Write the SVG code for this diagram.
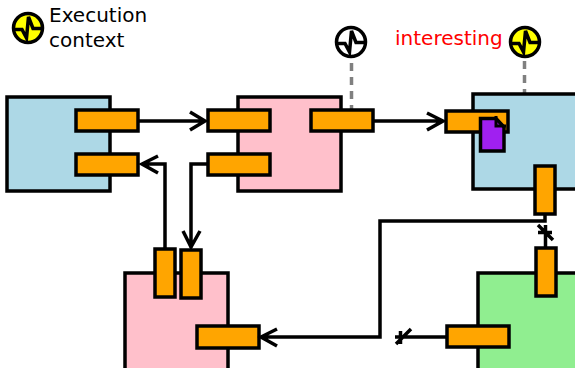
<svg xmlns="http://www.w3.org/2000/svg" width="575" height="368" viewBox="0 0 575 368">
<defs>
<g id="ctx"><circle cx="0" cy="0" r="14.500" stroke="#000" stroke-width="3.500"/><path d="M-15 1.500H-6L-1.500 10L0.500 -11L5 0.500H15" fill="none" stroke="#000" stroke-width="3.500"/></g>
</defs>
<style>
text{font-family:"DejaVu Sans",sans-serif;font-size:20px}
.b{stroke:#000;stroke-width:3.500}
.p{fill:orange;stroke:#000;stroke-width:3.500}
.c{fill:none;stroke:#000;stroke-width:3.500}
.d{fill:none;stroke:#808080;stroke-width:3.500;stroke-dasharray:8 6}
</style>
<rect width="575" height="368" fill="#fff"/>
<g id="legend"><use href="#ctx" x="28" y="28" fill="#ffff00"/><text x="49" y="22">Execution</text><text x="49" y="47">context</text></g>
<g id="connectors-dashed"><path class="d" d="M351.500 63V110"/><path class="d" d="M524.500 61V94"/></g>
<g id="node-a"><rect class="b" x="7" y="97" width="103" height="94" fill="#add8e6"/><rect class="p" x="76" y="110" width="62" height="21"/><rect class="p" x="76" y="154" width="62" height="21"/></g>
<g id="node-b"><rect class="b" x="238" y="97" width="103" height="94" fill="#ffc0cb"/><rect class="p" x="208" y="110" width="62" height="21"/><rect class="p" x="208" y="154" width="62" height="21"/><rect class="p" x="311" y="110" width="62" height="21"/></g>
<g id="node-c"><rect class="b" x="473" y="94" width="104" height="95" fill="#add8e6"/><rect class="p" x="446" y="111" width="62" height="21"/><rect class="p" x="535" y="166" width="20" height="48"/><path d="M480.500 118.500H496L504 127V151H480.500Z" fill="#a020f0" stroke="#000" stroke-width="3.500"/><path d="M496 116V126H506" fill="none" stroke="#000" stroke-width="3"/></g>
<g id="node-d"><rect class="b" x="125" y="273" width="103" height="97" fill="#ffc0cb"/><rect class="p" x="155" y="249" width="20" height="48"/><rect class="p" x="181" y="250" width="20" height="48"/><rect class="p" x="197" y="326" width="62" height="22"/></g>
<g id="node-e"><rect class="b" x="478" y="273" width="100" height="97" fill="#90ee90"/><rect class="p" x="536" y="248" width="20" height="48"/><rect class="p" x="447" y="326" width="62" height="21"/></g>
<g id="connectors">
<path class="c" d="M138 121H205M190 112L205 121L190 130"/>
<path class="c" d="M373 121H443M427 113L443 121L427 130"/>
<path class="c" d="M165 249V164H142M158 156L142 164L158 173"/>
<path class="c" d="M208 164H191V248M183 231L191 247L200 231"/>
<path class="c" d="M545 214V221H380V337H261M277 329L261 337L277 346"/>
<path class="c" d="M545.500 225V248M538 225L553 240M538 232.500H552"/>
<path class="c" d="M447 337H395M396 344L411 329M400.500 331V344"/>
</g>
<g id="context-1"><use href="#ctx" x="351" y="42" fill="#fff"/></g>
<g id="context-2"><use href="#ctx" x="525" y="42" fill="#ffff00"/><text x="395" y="45" fill="#ff0000">interesting</text></g>
</svg>
